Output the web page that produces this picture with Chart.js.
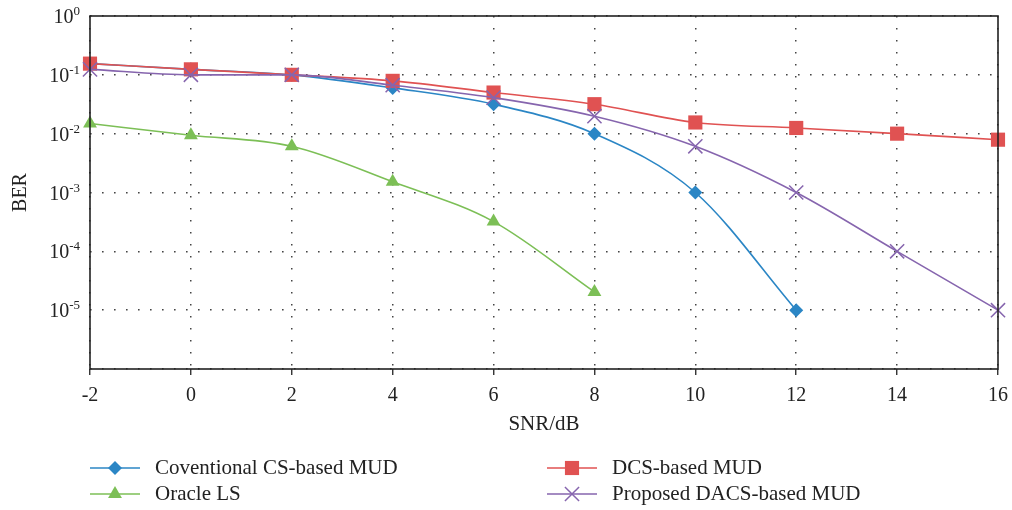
<!DOCTYPE html>
<html>
<head>
<meta charset="utf-8">
<script src="https://cdn.jsdelivr.net/npm/chart.js@4/dist/chart.umd.min.js"></script>
<style>
  html, body { margin: 0; padding: 0; background: #fff; }
  #wrap { width: 1012px; height: 510px; }
</style>
</head>
<body>
<div id="wrap"><canvas id="berChart"></canvas></div>
<script>
// SNR values (dB)
var snr = [-2, 0, 2, 4, 6, 8, 10, 12, 14, 16];

// BER curves
var conventionalCS = [0.155, 0.124, 0.1, 0.06, 0.0317, 0.01, 0.001, 0.00001];
var dcsMud = [0.155, 0.124, 0.1, 0.079, 0.05, 0.0317, 0.0155, 0.0125, 0.01, 0.0079];
var oracleLS = [0.0149, 0.0094, 0.0061, 0.00152, 0.00032, 0.0000204];
var proposedDACS = [0.124, 0.1, 0.1, 0.0666, 0.041, 0.0198, 0.0061, 0.001, 0.0001, 0.00001];

var yDecades = [1e-6, 1e-5, 1e-4, 1e-3, 1e-2, 1e-1, 1e0];
var yExponents = ['-6', '-5', '-4', '-3', '-2', '-1', '0'];

var seriesNames = ['Coventional CS-based MUD', 'DCS-based MUD', 'Oracle LS', 'Proposed DACS-based MUD'];

function pairs(ys) {
  return ys.map(function(v, i) { return { x: snr[i], y: v }; });
}

var serif = '"Liberation Serif", "DejaVu Serif", serif';

function drawMarker(ctx, style, x, y, r, color) {
  ctx.save();
  ctx.fillStyle = color;
  ctx.strokeStyle = color;
  ctx.lineWidth = 1.5;
  ctx.beginPath();
  if (style === 'rect') {
    var s = r * Math.SQRT1_2;
    ctx.rect(x - s, y - s, 2 * s, 2 * s);
    ctx.fill();
  } else if (style === 'rectRot') {
    ctx.moveTo(x, y - r); ctx.lineTo(x + r, y); ctx.lineTo(x, y + r); ctx.lineTo(x - r, y);
    ctx.closePath(); ctx.fill();
  } else if (style === 'triangle') {
    ctx.moveTo(x, y - r);
    ctx.lineTo(x + r * Math.cos(Math.PI / 6), y + r * 0.5);
    ctx.lineTo(x - r * Math.cos(Math.PI / 6), y + r * 0.5);
    ctx.closePath(); ctx.fill();
  } else if (style === 'crossRot') {
    var o = r * Math.SQRT1_2;
    ctx.moveTo(x - o, y - o); ctx.lineTo(x + o, y + o);
    ctx.moveTo(x + o, y - o); ctx.lineTo(x - o, y + o);
    ctx.stroke();
  }
  ctx.restore();
}

var framePlugin = {
  id: 'frameAndLabels',
  afterDraw: function(chart) {
    var ctx = chart.ctx;
    var a = chart.chartArea;
    var yScale = chart.scales.y;
    ctx.save();
    // box round the plot
    ctx.strokeStyle = '#222';
    ctx.lineWidth = 1.6;
    ctx.strokeRect(a.left, a.top, a.right - a.left, a.bottom - a.top);

    // y tick labels as 10 with a raised exponent
    ctx.fillStyle = '#222';
    ctx.textBaseline = 'alphabetic';
    for (var i = 1; i < yDecades.length; i++) {
      var py = yScale.getPixelForValue(yDecades[i]);
      ctx.font = '13px ' + serif;
      var ew = ctx.measureText(yExponents[i]).width;
      ctx.textAlign = 'right';
      ctx.fillText(yExponents[i], 80, py - 1);
      ctx.font = '20px ' + serif;
      ctx.fillText('10', 80 - ew, py + 7);
    }

    // legend, two columns
    var cols = [90, 547];
    var rows = [468, 494];
    chart.data.datasets.forEach(function(ds, k) {
      var lx = cols[k % 2];
      var ly = rows[Math.floor(k / 2)];
      ctx.strokeStyle = ds.borderColor;
      ctx.lineWidth = 1.6;
      ctx.beginPath();
      ctx.moveTo(lx, ly);
      ctx.lineTo(lx + 50, ly);
      ctx.stroke();
      drawMarker(ctx, ds.pointStyle, lx + 25, ly, ds.pointRadius, ds.borderColor);
      ctx.fillStyle = '#222';
      ctx.font = '21px ' + serif;
      ctx.textAlign = 'left';
      ctx.textBaseline = 'middle';
      ctx.fillText(ds.label, lx + 65, ly);
    });
    ctx.restore();
  }
};

var gridDash = { display: false, dash: [1.6, 10.4] };

var config = {
  type: 'line',
  data: {
    datasets: [{
      label: seriesNames[0],
      data: pairs(conventionalCS),
      borderColor: '#2B86C5',
      backgroundColor: '#2B86C5',
      pointStyle: 'rectRot',
      pointRadius: 7,
      order: 2
    }, {
      label: seriesNames[1],
      data: pairs(dcsMud),
      borderColor: '#E05252',
      backgroundColor: '#E05252',
      pointStyle: 'rect',
      pointRadius: 10,
      order: 1
    }, {
      label: seriesNames[2],
      data: pairs(oracleLS),
      borderColor: '#7CBF56',
      backgroundColor: '#7CBF56',
      pointStyle: 'triangle',
      pointRadius: 8,
      order: 3
    }, {
      label: seriesNames[3],
      data: pairs(proposedDACS),
      borderColor: '#8665AE',
      backgroundColor: '#8665AE',
      pointStyle: 'crossRot',
      pointRadius: 10,
      pointBorderWidth: 1.5,
      order: 0
    }]
  },
  options: {
    responsive: true,
    maintainAspectRatio: false,
    animation: false,
    layout: { padding: { left: 0, top: 16, right: 14, bottom: 70 } },
    elements: {
      line: { borderWidth: 1.6, cubicInterpolationMode: 'monotone', fill: false },
      point: { borderWidth: 0, hoverRadius: 8 }
    },
    datasets: { line: { clip: false } },
    plugins: {
      legend: { display: false },
      tooltip: { enabled: false }
    },
    scales: {
      x: {
        type: 'linear',
        min: -2,
        max: 16,
        ticks: {
          stepSize: 2,
          color: '#222',
          padding: 9,
          font: { family: serif, size: 20 }
        },
        grid: {
          color: '#444',
          lineWidth: 1.5,
          tickLength: 6,
          tickColor: '#222',
          tickBorderDash: [],
          tickWidth: 1.3
        },
        border: gridDash,
        title: {
          display: true,
          text: 'SNR/dB',
          color: '#222',
          font: { family: serif, size: 21 },
          padding: { top: 0, bottom: 3 }
        },
        afterFit: function(s) {
          s.height = 71;
          s.paddingLeft = 0;
          s.paddingRight = 0;
        }
      },
      y: {
        type: 'logarithmic',
        min: 1e-6,
        max: 1,
        afterBuildTicks: function(s) {
          s.ticks = yDecades.map(function(v) { return { value: v }; });
        },
        ticks: { display: false },
        grid: {
          color: '#444',
          lineWidth: 1.5,
          drawTicks: false
        },
        border: gridDash,
        title: {
          display: true,
          text: 'BER',
          color: '#222',
          font: { family: serif, size: 20 },
          padding: { top: 9, bottom: 0 }
        },
        afterFit: function(s) {
          s.width = 90;
          s.paddingTop = 0;
          s.paddingBottom = 0;
        }
      }
    }
  },
  plugins: [framePlugin]
};

var ctx = document.getElementById('berChart').getContext('2d');
new Chart(ctx, config);
</script>
</body>
</html>
